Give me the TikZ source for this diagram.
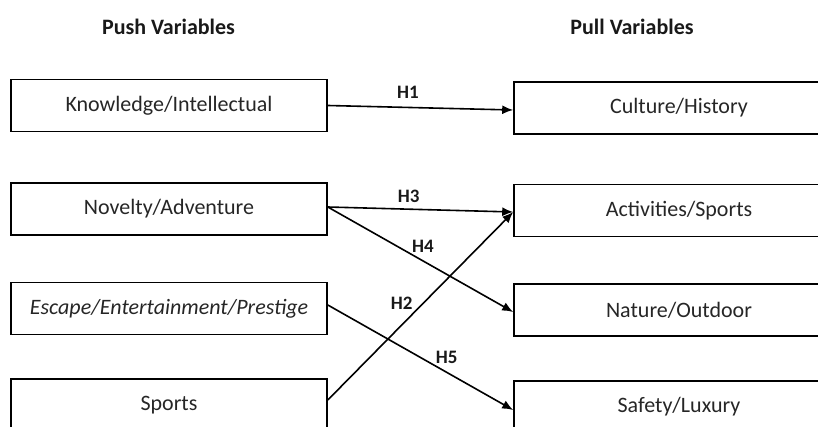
\documentclass[tikz,border=0pt]{standalone}
\usepackage{fontspec}
\setmainfont{Carlito}
\usetikzlibrary{arrows.meta}
\begin{document}
\begin{tikzpicture}[x=1pt,y=-1pt,
  box/.style={draw=black,line width=1.6pt,minimum width=316pt,minimum height=52pt,inner sep=0pt,font=\fontsize{22}{26}\selectfont,text=black!85},
  rbox/.style={box,minimum width=330pt},
  head/.style={font=\bfseries\fontsize{22}{26}\selectfont,text=black!90},
  hlab/.style={font=\bfseries\fontsize{19}{22}\selectfont,text=black!90,inner sep=0pt},
  conn/.style={line width=1.6pt,-{Latex[length=11pt,width=9pt]}}]
\useasboundingbox (0,0) rectangle (818,427);
\node[head] (pushh) at (168.5,27) {Push Variables};
\node[head] (pullh) at (632,27) {Pull Variables};
\node[box] (know) at (169,105.5) {Knowledge/Intellectual};
\node[box] (nov) at (169,209) {Novelty/Adventure};
\node[box] (esc) at (169,308.5) {\itshape Escape/Entertainment/Prestige};
\node[box] (spo) at (169,405) {Sports};
\node[rbox] (cul) at (679,108) {Culture/History};
\node[rbox] (act) at (679,210.5) {Activities/Sports};
\node[rbox] (nat) at (679,310) {Nature/Outdoor};
\node[rbox] (saf) at (679,407) {Safety/Luxury};
\draw[conn] (know.east) -- ([yshift=-2pt]cul.west);
\draw[conn] ([yshift=2pt]nov.east) -- ([yshift=-1.5pt]act.west);
\draw[conn] ([yshift=2pt]nov.east) -- ([yshift=-2pt]nat.west);
\draw[conn] ([yshift=5pt]spo.east) -- ([yshift=-1.5pt]act.west);
\draw[conn] ([yshift=3.5pt]esc.east) -- ([yshift=-3pt]saf.west);
\node[hlab] (h1) at (408,92) {H1};
\node[hlab] (h3) at (408.7,196) {H3};
\node[hlab] (h4) at (423,246) {H4};
\node[hlab] (h2) at (401.7,303) {H2};
\node[hlab] (h5) at (446.7,357.7) {H5};
\end{tikzpicture}
\end{document}
